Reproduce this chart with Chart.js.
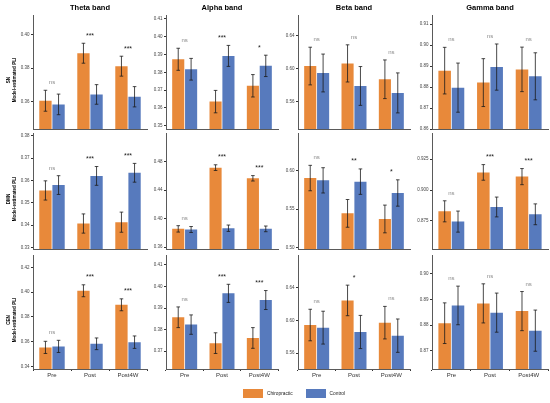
<!DOCTYPE html>
<html>
<head>
<meta charset="utf-8">
<script src="https://cdn.jsdelivr.net/npm/chart.js@4.4.0/dist/chart.umd.min.js"></script>
<style>
  body { margin: 0; background: #fff; font-family: "Liberation Sans", Arial, sans-serif; }
  #fig { position: relative; width: 550px; height: 403px; overflow: hidden; }
  .box { position: absolute; }
  .title { position: absolute; font-weight: bold; font-size: 7.5px; color: #000;
           transform: translate(-50%, -50%); white-space: nowrap; }
  .rowlab { position: absolute; font-weight: bold; font-size: 4.6px; color: #000; text-align: center;
            line-height: 1.2; white-space: nowrap; transform: translate(-50%, -50%) rotate(-90deg); }
  .legend { position: absolute; left: 243px; top: 389px; display: flex; align-items: center;
            font-size: 4.8px; color: #222; }
  .sw { width: 20px; height: 9px; margin-right: 4px; }
</style>
</head>
<body>
<div id="fig"></div>
<script>
const bands = ['Theta band', 'Alpha band', 'Beta band', 'Gamma band'];
const networks = ['SN', 'DMN', 'CEN'];
const sessions = ['Pre', 'Post', 'Post4W'];
const groups = ['Chiropractic', 'Control'];

// model-estimated PLI, [network][band][session]
const chiroMean = [
  [[0.3604, 0.3890, 0.3812], [0.3873, 0.3635, 0.3724], [0.6032, 0.6064, 0.5872], [0.8878, 0.8821, 0.8884]],
  [[0.3555, 0.3407, 0.3413], [0.3855, 0.4716, 0.4566], [0.5904, 0.5443, 0.5370], [0.8828, 0.9142, 0.9108]],
  [[0.3555, 0.4011, 0.3898], [0.3857, 0.3737, 0.3761], [0.5943, 0.6244, 0.5972], [0.8808, 0.8885, 0.8855]]
];
const chiroErr = [
  [[0.0063, 0.0060, 0.0060], [0.0062, 0.0063, 0.0063], [0.0228, 0.0225, 0.0234], [0.0111, 0.0114, 0.0106]],
  [[0.0043, 0.0043, 0.0045], [0.0045, 0.0040, 0.0038], [0.0166, 0.0181, 0.0181], [0.0085, 0.0063, 0.0065]],
  [[0.0049, 0.0048, 0.0048], [0.0048, 0.0048, 0.0048], [0.0193, 0.0187, 0.0199], [0.0079, 0.0076, 0.0076]]
];
const ctrlMean = [
  [[0.3582, 0.3642, 0.3628], [0.3817, 0.3892, 0.3836], [0.5948, 0.5791, 0.5707], [0.8797, 0.8895, 0.8851]],
  [[0.3579, 0.3620, 0.3634], [0.3846, 0.3864, 0.3855], [0.5874, 0.5857, 0.5709], [0.8745, 0.8863, 0.8804]],
  [[0.3563, 0.3584, 0.3597], [0.3823, 0.3968, 0.3937], [0.5911, 0.5858, 0.5813], [0.8877, 0.8849, 0.8779]]
];
const ctrlErr = [
  [[0.0062, 0.0059, 0.0061], [0.0061, 0.0059, 0.0060], [0.0229, 0.0235, 0.0242], [0.0117, 0.0110, 0.0112]],
  [[0.0042, 0.0042, 0.0042], [0.0042, 0.0045, 0.0040], [0.0165, 0.0166, 0.0172], [0.0085, 0.0080, 0.0084]],
  [[0.0049, 0.0047, 0.0050], [0.0045, 0.0042, 0.0044], [0.0201, 0.0203, 0.0204], [0.0075, 0.0076, 0.0080]]
];
const sigMarks = [
  [['ns', '***', '***'], ['ns', '***', '*'], ['ns', 'ns', 'ns'], ['ns', 'ns', 'ns']],
  [['ns', '***', '***'], ['ns', '***', '***'], ['ns', '**', '*'], ['ns', '***', '***']],
  [['ns', '***', '***'], ['ns', '***', '***'], ['ns', '*', 'ns'], ['ns', 'ns', 'ns']]
];
const yTickLabels = [
  [['0.36', '0.38', '0.40'], ['0.35', '0.36', '0.37', '0.38', '0.39', '0.40', '0.41'], ['0.56', '0.60', '0.64'], ['0.86', '0.87', '0.88', '0.89', '0.90', '0.91']],
  [['0.33', '0.34', '0.35', '0.36', '0.37', '0.38'], ['0.36', '0.40', '0.44', '0.48'], ['0.50', '0.55', '0.60'], ['0.875', '0.900', '0.925']],
  [['0.34', '0.36', '0.38', '0.40', '0.42'], ['0.37', '0.38', '0.39', '0.40', '0.41'], ['0.56', '0.60', '0.64'], ['0.87', '0.88', '0.89', '0.90']]
];
const yRange = [
  [[0.3434, 0.4120], [0.3481, 0.4122], [0.5270, 0.6650], [0.8600, 0.9143]],
  [[0.3293, 0.3812], [0.3572, 0.5203], [0.4978, 0.6492], [0.8524, 0.9460]],
  [[0.3381, 0.4299], [0.3617, 0.4146], [0.5405, 0.6800], [0.8630, 0.9073]]
];

const ORANGE = '#E8893A';
const BLUE = '#577ABD';

// panel geometry (plot area edges, px)
const colLeft = [33, 166, 298, 432];
const colRight = [147, 278, 410, 548];
const rowTop = [15, 133, 255];
const rowBottom = [129, 249, 369];
const AXW = 24, PADT = 8, PADR = 3;

const FONT = '"Liberation Sans", Arial, sans-serif';

const errorBars = {
  id: 'errorBars',
  afterDatasetsDraw(chart) {
    const { ctx, scales: { y } } = chart;
    ctx.save();
    ctx.strokeStyle = '#1a1a1a';
    ctx.lineWidth = 0.8;
    chart.data.datasets.forEach((ds, d) => {
      chart.getDatasetMeta(d).data.forEach((bar, i) => {
        const top = y.getPixelForValue(ds.data[i] + ds.errs[i]);
        const bot = y.getPixelForValue(ds.data[i] - ds.errs[i]);
        ctx.beginPath();
        ctx.moveTo(bar.x, top); ctx.lineTo(bar.x, bot);
        ctx.moveTo(bar.x - 1.8, top); ctx.lineTo(bar.x + 1.8, top);
        ctx.moveTo(bar.x - 1.8, bot); ctx.lineTo(bar.x + 1.8, bot);
        ctx.stroke();
      });
    });
    ctx.restore();
  }
};

// significance labels above the taller error bar of each pair
const sigLabels = {
  id: 'sigLabels',
  afterDatasetsDraw(chart, args, opts) {
    const { ctx, scales: { x, y } } = chart;
    const [a, b] = chart.data.datasets;
    ctx.save();
    ctx.textAlign = 'center';
    ctx.textBaseline = 'alphabetic';
    opts.labels.forEach((lab, i) => {
      const hi = Math.max(a.data[i] + a.errs[i], b.data[i] + b.errs[i]);
      const ns = lab === 'ns';
      ctx.fillStyle = ns ? '#8a8a8a' : '#1a1a1a';
      ctx.font = (ns ? '6px ' : '7px ') + FONT;
      ctx.fillText(lab, x.getPixelForValue(i), y.getPixelForValue(hi) - (ns ? 6 : 5.5));
    });
    ctx.restore();
  }
};

const fig = document.getElementById('fig');

networks.forEach((net, r) => {
  bands.forEach((band, c) => {
    const bottomRow = r === networks.length - 1;
    const XH = bottomRow ? 13 : 5;
    const plotW = colRight[c] - colLeft[c];
    const plotH = rowBottom[r] - rowTop[r];

    const box = document.createElement('div');
    box.className = 'box';
    box.style.left = (colLeft[c] - AXW) + 'px';
    box.style.top = (rowTop[r] - PADT) + 'px';
    box.style.width = (plotW + AXW + PADR) + 'px';
    box.style.height = (plotH + PADT + XH) + 'px';
    const canvas = document.createElement('canvas');
    box.appendChild(canvas);
    fig.appendChild(box);

    const tickLabels = yTickLabels[r][c];
    const tickVals = tickLabels.map(Number);

    new Chart(canvas, {
      type: 'bar',
      data: {
        labels: sessions,
        datasets: [
          { label: groups[0], data: chiroMean[r][c], errs: chiroErr[r][c], backgroundColor: ORANGE },
          { label: groups[1], data: ctrlMean[r][c], errs: ctrlErr[r][c], backgroundColor: BLUE }
        ]
      },
      options: {
        responsive: true,
        maintainAspectRatio: false,
        animation: false,
        layout: { padding: { top: PADT, right: PADR, left: 0, bottom: 0 } },
        datasets: { bar: { categoryPercentage: 0.69, barPercentage: 0.94, borderWidth: 0 } },
        plugins: {
          legend: { display: false },
          tooltip: { enabled: false },
          sigLabels: { labels: sigMarks[r][c] }
        },
        scales: {
          x: {
            offset: true,
            grid: { display: bottomRow, drawOnChartArea: false, drawTicks: true, tickLength: 2, color: '#333' },
            border: { display: true, color: '#5a5a5a', width: 1 },
            ticks: { display: bottomRow, color: '#333', padding: 1, font: { size: 6, family: FONT } },
            afterFit: s => { s.height = XH; }
          },
          y: {
            min: yRange[r][c][0],
            max: yRange[r][c][1],
            grid: { drawOnChartArea: false, drawTicks: true, tickLength: 2, color: '#333' },
            border: { display: true, color: '#5a5a5a', width: 1 },
            afterBuildTicks: s => { s.ticks = tickVals.map(v => ({ value: v })); },
            ticks: {
              autoSkip: false,
              color: '#444',
              padding: 1.5,
              font: { size: 4.5, family: FONT },
              callback: (v, i) => tickLabels[i]
            },
            afterFit: s => { s.width = AXW; }
          }
        }
      },
      plugins: [errorBars, sigLabels]
    });
  });
});

// column titles
bands.forEach((band, c) => {
  const t = document.createElement('div');
  t.className = 'title';
  t.textContent = band;
  t.style.left = ((colLeft[c] + colRight[c]) / 2) + 'px';
  t.style.top = '7px';
  fig.appendChild(t);
});

// row labels
networks.forEach((net, r) => {
  const l = document.createElement('div');
  l.className = 'rowlab';
  l.innerHTML = net + '<br>Model-estimated PLI';
  l.style.left = '10.5px';
  l.style.top = ((rowTop[r] + rowBottom[r]) / 2 + 8) + 'px';
  fig.appendChild(l);
});

// legend
const leg = document.createElement('div');
leg.className = 'legend';
leg.innerHTML =
  '<div class="sw" style="background:' + ORANGE + '"></div><span style="margin-right:13px">' + groups[0] + '</span>' +
  '<div class="sw" style="background:' + BLUE + '"></div><span>' + groups[1] + '</span>';
fig.appendChild(leg);
</script>
</body>
</html>
